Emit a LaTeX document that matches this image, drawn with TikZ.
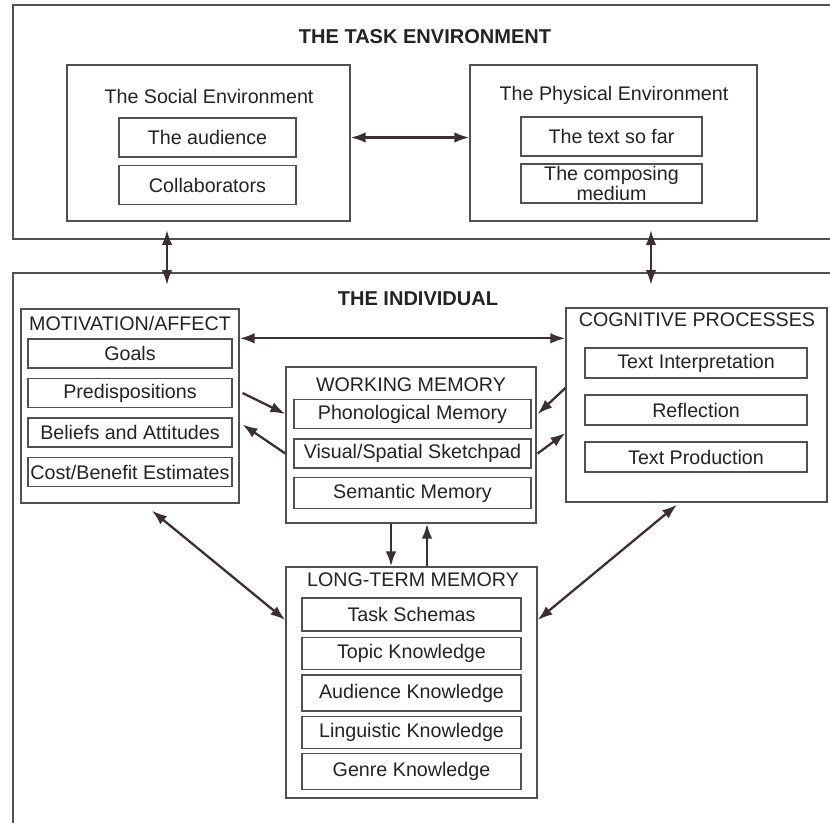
\documentclass[tikz,border=0pt]{standalone}
\usepackage{fontspec}
\setmainfont{Liberation Sans}
\usetikzlibrary{positioning,arrows.meta}

\definecolor{boxline}{RGB}{80,80,80}
\definecolor{arrowcol}{RGB}{58,48,52}
\definecolor{inkcol}{RGB}{35,35,35}

\tikzset{
  frame/.style={draw=boxline, line width=0.8pt, inner sep=0pt},
  itembox/.style={draw=boxline, line width=0.7pt, align=center, inner sep=1pt, minimum height=0.58cm},
  heading/.style={font=\bfseries\fontsize{11.4}{13}\selectfont},
  link/.style={arrowcol, line width=1.3pt, -{Latex[length=8.5pt,width=6pt]}},
  twoway/.style={arrowcol, line width=1.3pt, {Latex[length=8.5pt,width=6pt]}-{Latex[length=8.5pt,width=6pt]}},
}

\begin{document}
\begin{tikzpicture}[x=0.02cm, y=-0.02cm, node distance=0.79cm,
    every node/.style={text=inkcol, font=\fontsize{11.2}{12.5}\selectfont}]

\useasboundingbox (0,0) rectangle (830,822);
\fill[white] (0,0) rectangle (830,822);
\clip (0,0) rectangle (830,822);

% Outer frames
\node[frame, minimum width=16.74cm, minimum height=4.68cm] (taskenv) at (431.5,122) {};
\node[frame, minimum width=16.74cm, minimum height=11.74cm] (indiv) at (431.5,566.5) {};
\node[heading] (tasktitle) at (425,37) {THE TASK ENVIRONMENT};
\node[heading] (indivtitle) at (418,299) {THE INDIVIDUAL};

% Social environment
\node[frame, minimum width=5.66cm, minimum height=3.12cm] (social) at (208.5,143) {};
\node (socialtitle) at (209,96) {The Social Environment};
\node[itembox, minimum width=3.54cm, minimum height=0.78cm] (audience) at (207.5,137.5) {The audience};
\node[itembox, minimum width=3.54cm, minimum height=0.78cm, node distance=0.95cm, below of=audience] (collab) {Collaborators};

% Physical environment
\node[frame, minimum width=5.74cm, minimum height=3.12cm] (physical) at (613.5,143) {};
\node (physicaltitle) at (614,95) {The Physical Environment};
\node[itembox, minimum width=3.62cm, minimum height=0.78cm] (textsofar) at (611.5,136.5) {The text so far};
\node[itembox, minimum width=3.62cm, minimum height=0.78cm, node distance=0.94cm, below of=textsofar] (medium) {The composing\\[-1pt]medium};

% Motivation / affect
\node[frame, minimum width=4.36cm, minimum height=3.88cm] (motiv) at (130,406) {};
\node (motivtitle) at (130,323) {MOTIVATION/AFFECT};
\node[itembox, minimum width=4.08cm] (goals) at (130,353.5) {Goals};
\node[itembox, minimum width=4.08cm, below of=goals] (predisp) {Predispositions};
\node[itembox, minimum width=4.08cm, below of=predisp] (beliefs) {Beliefs and Attitudes};
\node[itembox, minimum width=4.08cm, below of=beliefs] (costs) {Cost/Benefit Estimates};

% Working memory
\node[frame, minimum width=5.0cm, minimum height=3.12cm] (wm) at (411,445) {};
\node (wmtitle) at (411,385) {WORKING MEMORY};
\node[itembox, minimum width=4.74cm] (phon) at (412.5,414) {Phonological Memory};
\node[itembox, minimum width=4.74cm, below of=phon] (visual) {Visual/Spatial Sketchpad};
\node[itembox, minimum width=4.74cm, minimum height=0.62cm, below of=visual] (semantic) {Semantic Memory};

% Cognitive processes
\node[frame, minimum width=5.22cm, minimum height=3.88cm] (cog) at (696.5,405) {};
\node (cogtitle) at (697,320) {COGNITIVE PROCESSES};
\node[itembox, minimum width=4.44cm, minimum height=0.6cm] (interp) at (696,363) {Text Interpretation};
\node[itembox, minimum width=4.44cm, minimum height=0.6cm, node distance=0.94cm, below of=interp] (reflect) {Reflection};
\node[itembox, minimum width=4.44cm, minimum height=0.6cm, node distance=0.94cm, below of=reflect] (produce) {Text Production};

% Long-term memory
\node[frame, minimum width=5.02cm, minimum height=4.62cm] (ltm) at (411.5,682.5) {};
\node (ltmtitle) at (413,580) {LONG-TERM MEMORY};
\node[itembox, minimum width=4.38cm, minimum height=0.66cm] (schemas) at (411.5,614.5) {Task Schemas};
\node[itembox, minimum width=4.38cm, minimum height=0.64cm, node distance=0.785cm, below of=schemas] (topic) {Topic Knowledge};
\node[itembox, minimum width=4.38cm, minimum height=0.72cm, node distance=0.785cm, below of=topic] (audknow) {Audience Knowledge};
\node[itembox, minimum width=4.38cm, minimum height=0.64cm, node distance=0.785cm, below of=audknow] (lingknow) {Linguistic Knowledge};
\node[itembox, minimum width=4.38cm, minimum height=0.72cm, node distance=0.785cm, below of=lingknow] (genre) {Genre Knowledge};

% Free ends of the links between the two environments
\coordinate (socialtop) at (167,230);
\coordinate (socialbot) at (167,285);
\coordinate (physicaltop) at (651,230);
\coordinate (physicalbot) at (651,285);

% Task environment arrows
\draw[twoway] (social.east |- audience) -- (physical.west |- audience);
\draw[twoway] (socialtop) -- (socialbot);
\draw[twoway] (physicaltop) -- (physicalbot);

% Individual arrows
\draw[twoway] ([yshift=-0.6cm]motiv.north east) -- ([yshift=-0.6cm]motiv.north east -| cog.west);
\draw[link] ([xshift=0.2cm]predisp.east) -- (wm.west |- phon);
\draw[link] (wm.west |- visual) -- ([xshift=0.2cm,yshift=0.16cm]beliefs.east);
\draw[link] ([yshift=0.34cm]cog.west) -- ([xshift=0.12cm]phon.east);
\draw[link] ([xshift=0.12cm]visual.east) -- ([yshift=-0.56cm]cog.west);
\draw[link] ([xshift=-0.4cm]wm.south) -- ([xshift=-0.4cm]wm.south |- ltm.north);
\draw[link] ([xshift=0.32cm]wm.south |- ltm.north) -- ([xshift=0.32cm]wm.south);
\draw[twoway] ([xshift=0.44cm,yshift=-0.14cm]motiv.south) -- ([yshift=1.25cm]ltm.west);
\draw[twoway] ([xshift=-0.39cm,yshift=-0.04cm]cog.south) -- ([yshift=1.25cm]ltm.east);

\end{tikzpicture}
\end{document}
